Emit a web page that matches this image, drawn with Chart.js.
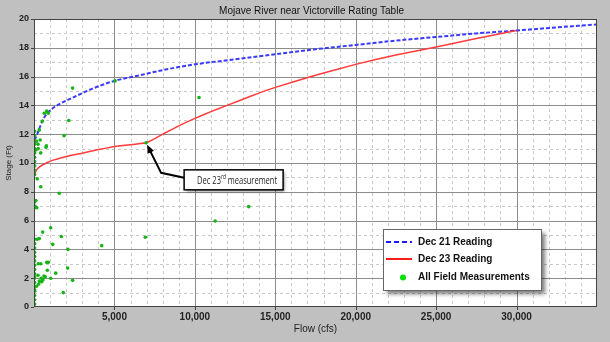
<!DOCTYPE html>
<html>
<head>
<meta charset="utf-8">
<script src="https://cdn.jsdelivr.net/npm/chart.js@4.4.1/dist/chart.umd.min.js"></script>
<style>
  html, body { margin: 0; padding: 0; background: #c0c0c0; overflow: hidden; }
  #ratingChart { display: block; }
</style>
</head>
<body>
<canvas id="ratingChart" width="610" height="342"></canvas>
<script>
// Dec 21 reading (blue dashed)
const dec21Flow  = [20, 165, 370, 600, 1000, 1600, 2240, 3000, 3600, 5000, 6600, 8000, 10000, 12500, 15000, 17500, 20000, 22500, 25000, 27500, 30000, 32500, 35000];
const dec21Stage = [11.6, 11.9, 12.5, 13.1, 13.65, 14.1, 14.45, 14.85, 15.15, 15.7, 16.1, 16.45, 16.85, 17.2, 17.55, 17.9, 18.2, 18.5, 18.75, 19.0, 19.2, 19.42, 19.62];

// Dec 23 reading (red solid)
const dec23Flow  = [0, 2, 5, 15, 50, 100, 200, 370, 550, 800, 1200, 1600, 2000, 2500, 3000, 4100, 5350, 6970, 8000, 9000, 10000, 11000, 12000, 13500, 15000, 17500, 20000, 22500, 25000, 27500, 30000];
const dec23Stage = [7.2, 8.0, 8.6, 9.0, 9.25, 9.4, 9.58, 9.75, 9.88, 10.02, 10.2, 10.33, 10.45, 10.57, 10.68, 10.95, 11.2, 11.4, 12.0, 12.58, 13.1, 13.57, 14.0, 14.65, 15.25, 16.1, 16.85, 17.5, 18.05, 18.65, 19.2];

// all field measurements (green dots)
const fieldFlow = [
  2400, 790, 640, 890, 520, 2160, 330, 1870, 770, 5040, 750, 420, 200, 420, 1570, 120, 60, 170,
  1040, 540, 1700, 200, 330, 1160, 2110, 270, 420, 790, 890, 2090, 830, 1350, 1040, 2400,
  170, 250, 330, 450, 560, 700, 300, 480, 620, 1820, 4210, 6920, 10260, 13350, 11260, 6970,
  150, 250, 120, 260, 380,
  40, 40, 40, 40, 40, 40, 40, 40, 40, 40, 40, 40, 40, 40, 40, 40, 40, 40, 40, 40,
  40, 40, 40, 40, 40, 40, 40, 40, 40, 40, 40, 40, 40
];
const fieldStage = [
  15.2, 13.6, 13.45, 13.45, 12.9, 12.95, 12.3, 11.9, 11.2, 15.7, 11.1, 10.7, 8.9, 8.35, 7.9, 7.4, 7.0, 6.9,
  5.5, 5.2, 4.9, 4.7, 4.75, 4.35, 4.0, 3.0, 3.0, 3.1, 3.1, 2.7, 2.55, 2.35, 2.0, 1.85,
  1.45, 2.2, 1.8, 2.0, 1.9, 2.1, 1.6, 1.75, 2.15, 1.0, 4.26, 4.84, 14.55, 6.97, 5.97, 11.4,
  11.5, 11.3, 10.9, 11.0, 11.6,
  0.2, 0.5, 0.8, 1.1, 1.4, 1.7, 2.0, 2.3, 2.6, 2.9, 3.2, 3.5, 3.8, 4.1, 4.4, 4.7, 9.2, 9.5, 9.8, 10.1,
  10.4, 10.7, 11.0, 11.3, 11.6, 11.9, 12.2, 7.0, 6.9, 7.3, 0.0, 1.2, 2.1
];

const xMax = 35000;
const yMax = 20;

function toPoints(xs, ys){
    return xs.map((v, i) => ({ x: v, y: ys[i] }));
}

// background, grid, frame, legend box and the arrow note
const decorPlugin = {
    id: 'decor',
    beforeDraw(chart){
        const ctx = chart.ctx;
        const a = chart.chartArea;
        const xs = chart.scales.x;
        const ys = chart.scales.y;
        ctx.save();
        ctx.fillStyle = '#c0c0c0';
        ctx.fillRect(0, 0, chart.width, chart.height);
        ctx.fillStyle = '#ffffff';
        ctx.fillRect(a.left, a.top, a.right - a.left, a.bottom - a.top);

        // minor dashed lines
        ctx.strokeStyle = '#c8c8c8';
        ctx.lineWidth = 1;
        ctx.setLineDash([3, 3]);
        for(let v = 1000; v < xMax; v += 1000){
            if(v % 5000 === 0) continue;
            const px = Math.round(xs.getPixelForValue(v)) + 0.5;
            ctx.beginPath(); ctx.moveTo(px, a.top); ctx.lineTo(px, a.bottom); ctx.stroke();
        }
        for(let v = 1; v < yMax; v += 2){
            const py = Math.round(ys.getPixelForValue(v)) + 0.5;
            ctx.beginPath(); ctx.moveTo(a.left, py); ctx.lineTo(a.right, py); ctx.stroke();
        }

        // major solid lines
        ctx.setLineDash([]);
        ctx.strokeStyle = '#8c8c8c';
        for(let v = 5000; v < xMax; v += 5000){
            const px = Math.round(xs.getPixelForValue(v)) + 0.5;
            ctx.beginPath(); ctx.moveTo(px, a.top); ctx.lineTo(px, a.bottom); ctx.stroke();
        }
        for(let v = 2; v < yMax; v += 2){
            const py = Math.round(ys.getPixelForValue(v)) + 0.5;
            ctx.beginPath(); ctx.moveTo(a.left, py); ctx.lineTo(a.right, py); ctx.stroke();
        }

        // title
        ctx.fillStyle = '#111';
        ctx.font = '10px "Liberation Sans", Arial, sans-serif';
        ctx.textAlign = 'center';
        ctx.textBaseline = 'middle';
        ctx.fillText('Mojave River near Victorville Rating Table', (a.left + a.right) / 2 - 4, 11);
        ctx.restore();
    },
    afterDatasetsDraw(chart){
        const ctx = chart.ctx;
        const a = chart.chartArea;
        const xs = chart.scales.x;
        const ys = chart.scales.y;
        ctx.save();

        // frame + small ticks
        ctx.strokeStyle = '#444';
        ctx.lineWidth = 1;
        ctx.strokeRect(a.left + 0.5, a.top + 0.5, a.right - a.left - 1, a.bottom - a.top - 1);
        ctx.beginPath();
        for(let v = 0; v <= yMax; v += 2){
            const py = Math.round(ys.getPixelForValue(v)) + 0.5;
            ctx.moveTo(a.left - 3, py); ctx.lineTo(a.left, py);
        }
        for(let v = 5000; v < xMax; v += 5000){
            const px = Math.round(xs.getPixelForValue(v)) + 0.5;
            ctx.moveTo(px, a.bottom); ctx.lineTo(px, a.bottom + 3);
        }
        ctx.stroke();

        // arrow note for the Dec 23 measurement
        const tipX = xs.getPixelForValue(6970);
        const tipY = ys.getPixelForValue(11.4);
        const bendX = tipX + 15, bendY = tipY + 30;
        const boxL = tipX + 38, boxT = tipY + 27, boxW = 99, boxH = 20;
        ctx.strokeStyle = '#000';
        ctx.lineWidth = 2;
        ctx.beginPath();
        ctx.moveTo(boxL, boxT + boxH / 2 - 2);
        ctx.lineTo(bendX, bendY);
        ctx.lineTo(tipX + 3, tipY + 6);
        ctx.stroke();
        const ang = Math.atan2(tipY - bendY, tipX - bendX);
        ctx.fillStyle = '#000';
        ctx.beginPath();
        ctx.moveTo(tipX + 1, tipY + 2);
        ctx.lineTo(tipX + 1 - 9 * Math.cos(ang - 0.4), tipY + 2 - 9 * Math.sin(ang - 0.4));
        ctx.lineTo(tipX + 1 - 9 * Math.cos(ang + 0.4), tipY + 2 - 9 * Math.sin(ang + 0.4));
        ctx.closePath();
        ctx.fill();

        ctx.shadowColor = 'rgba(0,0,0,0.45)';
        ctx.shadowBlur = 3;
        ctx.shadowOffsetX = 2;
        ctx.shadowOffsetY = 2;
        ctx.fillStyle = '#fff';
        ctx.fillRect(boxL, boxT, boxW, boxH);
        ctx.shadowColor = 'transparent';
        ctx.strokeStyle = '#000';
        ctx.lineWidth = 1.5;
        ctx.strokeRect(boxL, boxT, boxW, boxH);

        // squeeze the note text to fit like the narrow font in the picture
        const bigFont = '11px "Open Sans", sans-serif';
        const supFont = '7px "Open Sans", sans-serif';
        ctx.font = bigFont;
        const w1 = ctx.measureText('Dec 23').width;
        const w3 = ctx.measureText(' measurement').width;
        ctx.font = supFont;
        const w2 = ctx.measureText('rd').width;
        const sx = 80 / (w1 + w2 + w3);
        ctx.save();
        ctx.translate(boxL + 13, boxT + 14);
        ctx.scale(sx, 1);
        ctx.fillStyle = '#222';
        ctx.textAlign = 'left';
        ctx.textBaseline = 'alphabetic';
        ctx.font = bigFont;
        ctx.fillText('Dec 23', 0, 0);
        ctx.font = supFont;
        ctx.fillText('rd', w1, -5);
        ctx.font = bigFont;
        ctx.fillText(' measurement', w1 + w2, 0);
        ctx.restore();

        // legend box
        const lgL = a.right - 214, lgT = a.bottom - 78, lgW = 158, lgH = 61;
        ctx.shadowColor = 'rgba(0,0,0,0.5)';
        ctx.shadowBlur = 4;
        ctx.shadowOffsetX = 4;
        ctx.shadowOffsetY = 4;
        ctx.fillStyle = '#fff';
        ctx.fillRect(lgL, lgT, lgW, lgH);
        ctx.shadowColor = 'transparent';
        ctx.strokeStyle = '#666';
        ctx.lineWidth = 1;
        ctx.strokeRect(lgL + 0.5, lgT + 0.5, lgW, lgH);

        ctx.lineWidth = 2;
        ctx.strokeStyle = '#1a1aff';
        ctx.setLineDash([5, 3]);
        ctx.beginPath(); ctx.moveTo(lgL + 3, lgT + 13); ctx.lineTo(lgL + 29, lgT + 13); ctx.stroke();
        ctx.setLineDash([]);
        ctx.strokeStyle = '#ff1a1a';
        ctx.beginPath(); ctx.moveTo(lgL + 3, lgT + 30); ctx.lineTo(lgL + 29, lgT + 30); ctx.stroke();
        ctx.fillStyle = '#00e000';
        ctx.beginPath(); ctx.arc(lgL + 20, lgT + 48.5, 3, 0, Math.PI * 2); ctx.fill();

        ctx.fillStyle = '#111';
        ctx.font = 'bold 10px "Liberation Sans", Arial, sans-serif';
        ctx.textAlign = 'left';
        ctx.textBaseline = 'middle';
        ctx.fillText('Dec 21 Reading', lgL + 35, lgT + 13);
        ctx.fillText('Dec 23 Reading', lgL + 35, lgT + 30);
        ctx.fillText('All Field Measurements', lgL + 35, lgT + 48);
        ctx.restore();
    }
};

addEventListener('load', function(){
    const ctx = document.getElementById('ratingChart').getContext('2d');
    const ratingChart = new Chart(ctx, {
        data: {
            datasets: [{
                type: 'scatter',
                label: 'All Field Measurements',
                data: toPoints(fieldFlow, fieldStage),
                backgroundColor: '#14b414',
                borderWidth: 0,
                pointRadius: 1.8
            }, {
                type: 'line',
                label: 'Dec 23 Reading',
                data: toPoints(dec23Flow, dec23Stage),
                borderColor: '#ff3b3b',
                borderWidth: 1.5,
                pointRadius: 0,
                tension: 0.15
            }, {
                type: 'line',
                label: 'Dec 21 Reading',
                data: toPoints(dec21Flow, dec21Stage),
                borderColor: '#3a3aff',
                borderWidth: 2,
                borderDash: [4, 2],
                pointRadius: 0,
                cubicInterpolationMode: 'monotone'
            }]
        },
        options: {
            responsive: false,
            maintainAspectRatio: false,
            animation: false,
            devicePixelRatio: 1,
            layout: { padding: { left: 0, right: 13, top: 19, bottom: 0 } },
            scales: {
                x: {
                    type: 'linear',
                    min: 0,
                    max: xMax,
                    grid: { display: false, drawTicks: false },
                    border: { display: false },
                    ticks: {
                        stepSize: 1000,
                        autoSkip: false,
                        maxRotation: 0,
                        padding: 4,
                        color: '#222',
                        font: { family: '"Liberation Sans", Arial, sans-serif', size: 10, weight: 'bold' },
                        callback: (v) => (v % 5000 === 0 && v > 0 && v < xMax) ? v.toLocaleString('en-US') : ''
                    },
                    title: {
                        display: true,
                        text: 'Flow (cfs)',
                        color: '#222',
                        padding: { top: 0, bottom: 7 },
                        font: { family: '"Liberation Sans", Arial, sans-serif', size: 10 }
                    },
                    afterFit: (scale) => { scale.height = 35; }
                },
                y: {
                    type: 'linear',
                    min: 0,
                    max: yMax,
                    grid: { display: false, drawTicks: false },
                    border: { display: false },
                    ticks: {
                        stepSize: 1,
                        autoSkip: false,
                        padding: 5,
                        color: '#222',
                        font: { family: '"Liberation Sans", Arial, sans-serif', size: 9, weight: 'bold' },
                        callback: (v) => (v % 2 === 0) ? String(v) : ''
                    },
                    title: {
                        display: true,
                        text: 'Stage (Ft)',
                        color: '#222',
                        padding: { top: 4, bottom: 0 },
                        font: { family: '"Liberation Sans", Arial, sans-serif', size: 8 }
                    },
                    afterFit: (scale) => { scale.width = 34; }
                }
            },
            plugins: {
                legend: { display: false },
                tooltip: { enabled: false }
            }
        },
        plugins: [decorPlugin]
    });
});
</script>
</body>
</html>
